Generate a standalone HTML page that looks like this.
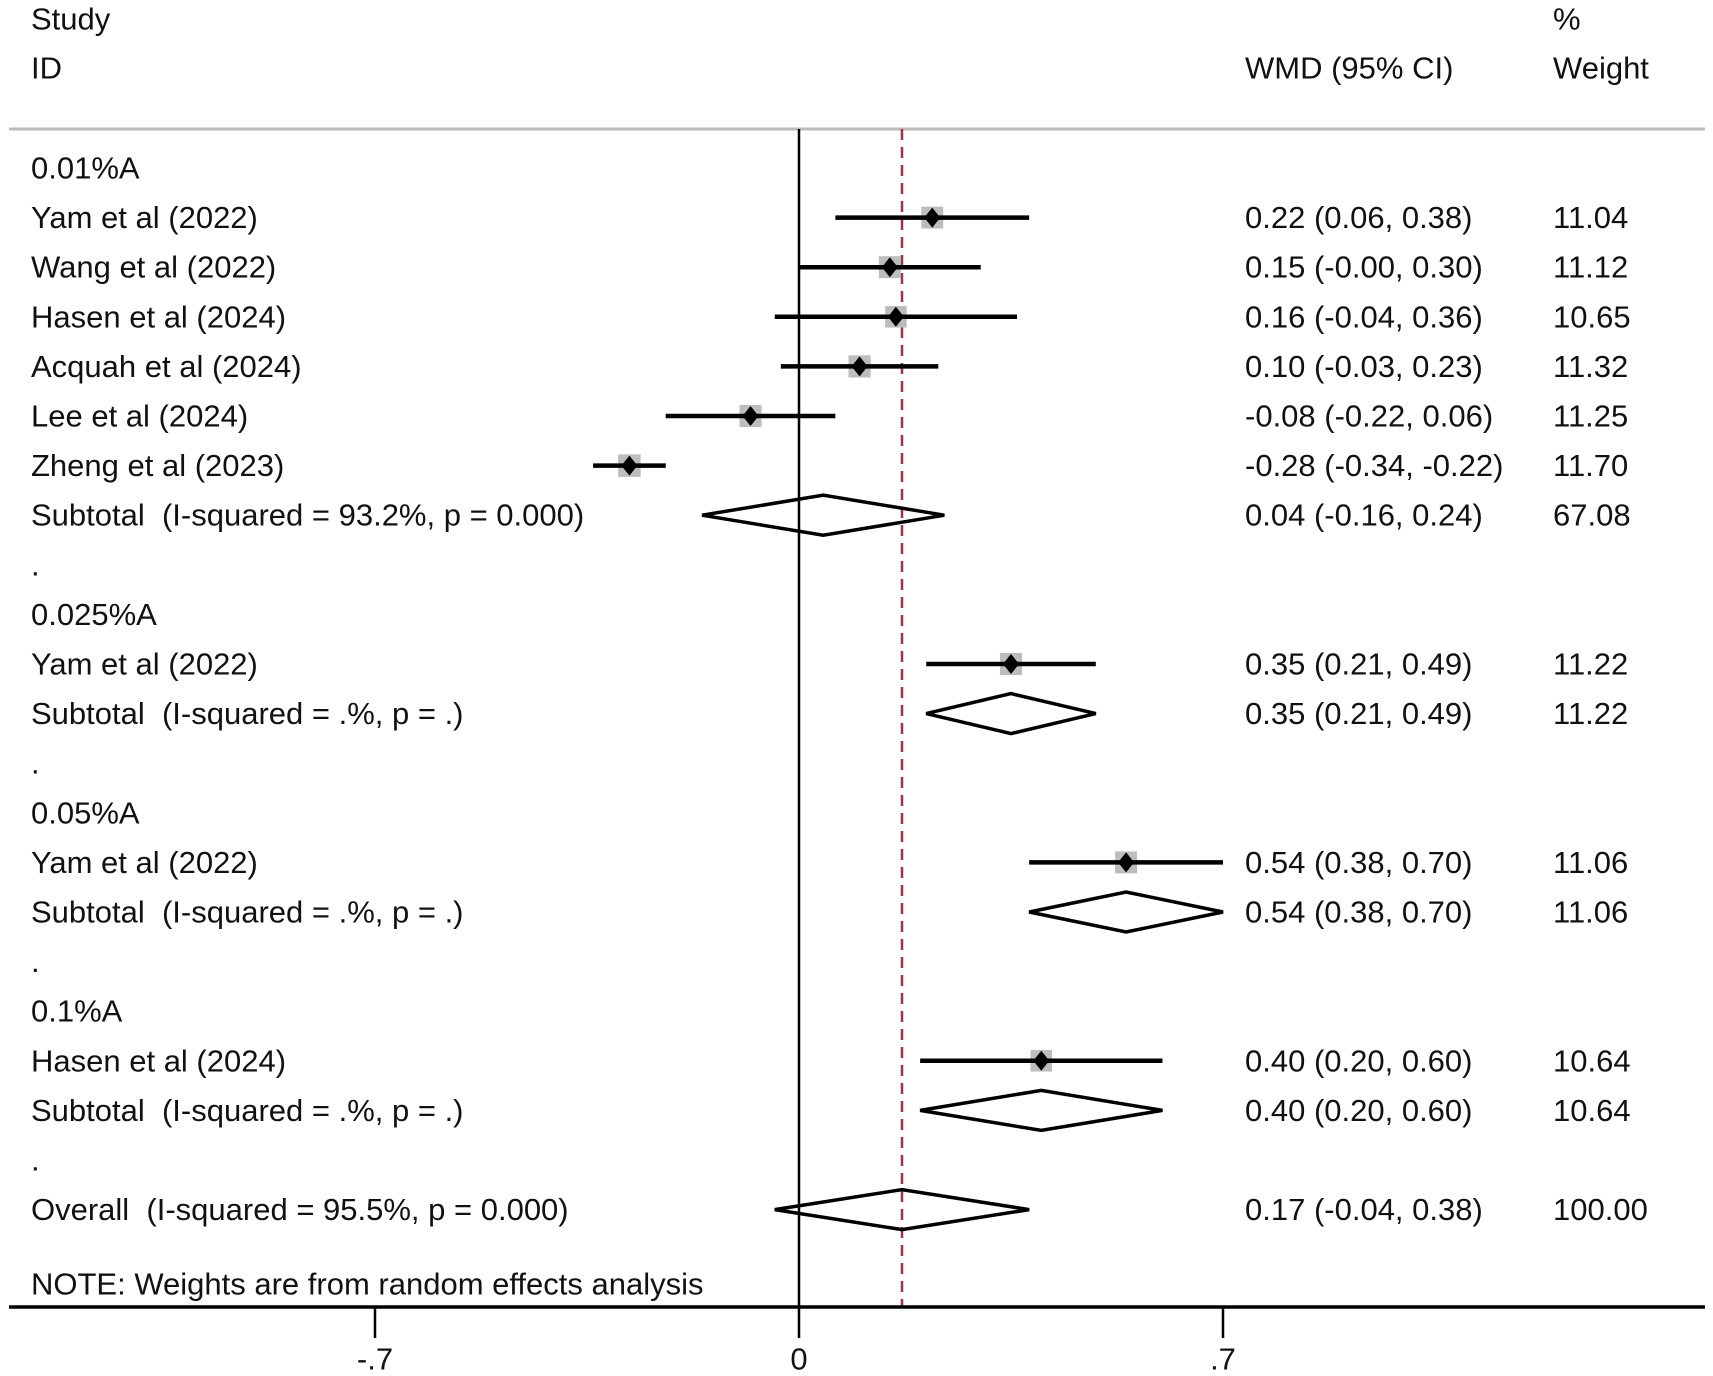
<!DOCTYPE html>
<html><head><meta charset="utf-8"><style>
html,body{margin:0;padding:0;background:#fff;}
svg{display:block;font-family:"Liberation Sans",Arial,sans-serif;}
text{white-space:pre;}
</style></head><body>
<svg id="plot" width="1713" height="1376" viewBox="0 0 1713 1376" xmlns="http://www.w3.org/2000/svg"></svg>
<script>
const labels = ["0.01%A","Yam et al (2022)","Wang et al (2022)","Hasen et al (2024)","Acquah et al (2024)","Lee et al (2024)","Zheng et al (2023)","Subtotal  (I-squared = 93.2%, p = 0.000)",".","0.025%A","Yam et al (2022)","Subtotal  (I-squared = .%, p = .)",".","0.05%A","Yam et al (2022)","Subtotal  (I-squared = .%, p = .)",".","0.1%A","Hasen et al (2024)","Subtotal  (I-squared = .%, p = .)",".","Overall  (I-squared = 95.5%, p = 0.000)"];
const rowTypes = ["h","s","s","s","s","s","s","d","b","h","s","d","b","h","s","d","b","h","s","d","b","d"];
const estimates = [null,0.22,0.15,0.16,0.10,-0.08,-0.28,0.04,null,null,0.35,0.35,null,null,0.54,0.54,null,null,0.40,0.40,null,0.17];
const lowers = [null,0.06,-0.00,-0.04,-0.03,-0.22,-0.34,-0.16,null,null,0.21,0.21,null,null,0.38,0.38,null,null,0.20,0.20,null,-0.04];
const uppers = [null,0.38,0.30,0.36,0.23,0.06,-0.22,0.24,null,null,0.49,0.49,null,null,0.70,0.70,null,null,0.60,0.60,null,0.38];
const ciText = ["","0.22 (0.06, 0.38)","0.15 (-0.00, 0.30)","0.16 (-0.04, 0.36)","0.10 (-0.03, 0.23)","-0.08 (-0.22, 0.06)","-0.28 (-0.34, -0.22)","0.04 (-0.16, 0.24)","","","0.35 (0.21, 0.49)","0.35 (0.21, 0.49)","","","0.54 (0.38, 0.70)","0.54 (0.38, 0.70)","","","0.40 (0.20, 0.60)","0.40 (0.20, 0.60)","",""];
const weightText = ["","11.04","11.12","10.65","11.32","11.25","11.70","67.08","","","11.22","11.22","","","11.06","11.06","","","10.64","10.64","","100.00"];
const weights = [0,11.04,11.12,10.65,11.32,11.25,11.70,0,0,0,11.22,0,0,0,11.06,0,0,0,10.64,0,0,0];
const overallEffect = 0.17;
const tickValues = [-0.7,0,0.7];
const tickLabels = ["-.7","0",".7"];
const overallCI = "0.17 (-0.04, 0.38)";

const svg = document.getElementById('plot');
const NS = "http://www.w3.org/2000/svg";
const x = v => 799 + v * (424/0.7);
const rowY = i => 168 + i * 49.6;
function mk(tag, attrs, parent){ const e=document.createElementNS(NS,tag); for(const k in attrs) e.setAttribute(k,attrs[k]); (parent||svg).appendChild(e); return e; }
function txt(s, xx, yy, name, anchor){ const t=mk('text',{x:xx,y:yy,'font-size':31,fill:'#111','dominant-baseline':'central','text-anchor':anchor||'start'}); t.textContent=s;
 
 
 return t; }

txt("Study",31,19,'header-study'); txt("ID",31,68,'header-id');
txt("WMD (95% CI)",1245,68,'header-wmd'); txt("%",1553,19,'header-percent'); txt("Weight",1553,68,'header-weight');
let l=mk('line',{x1:9,y1:129,x2:1705,y2:129,stroke:'#bbb','stroke-width':3});



l=mk('line',{x1:x(0),y1:129,x2:x(0),y2:1307,stroke:'#000','stroke-width':2.5});


l=mk('line',{x1:x(overallEffect),y1:129,x2:x(overallEffect),y2:1307,stroke:'#a4343f','stroke-width':2.5,'stroke-dasharray':'11,7'});



labels.forEach((lab,i)=>{
  const y=rowY(i);
  txt(lab,31,y,'row-label-'+i);
  if(ciText[i]) txt(ciText[i],1245,y,'ci-text-'+i);
  if(weightText[i]) txt(weightText[i],1553,y,'weight-text-'+i);
  if(rowTypes[i]==='s'){
    const g=mk('g',{});
    
    
    const sz=Math.sqrt(weights[i])*6.6;
    mk('rect',{x:x(estimates[i])-sz/2,y:y-sz/2,width:sz,height:sz,fill:'#bdbdbd'},g);
    mk('line',{x1:x(lowers[i]),y1:y,x2:x(uppers[i]),y2:y,stroke:'#000','stroke-width':4.5},g);
    const cx=x(estimates[i]);
    mk('polygon',{points:`${cx},${y-10} ${cx+8},${y} ${cx},${y+10} ${cx-8},${y}`,fill:'#000'},g);
  } else if(rowTypes[i]==='d'){
    const p=mk('polygon',{points:`${x(lowers[i])},${y} ${x(estimates[i])},${y-20} ${x(uppers[i])},${y} ${x(estimates[i])},${y+20}`,fill:'none',stroke:'#000','stroke-width':3.5});
    
    
  }
});
txt(overallCI,1245,rowY(21),'overall-ci-text');
txt("NOTE: Weights are from random effects analysis",31,1284,'note-text');

l=mk('line',{x1:9,y1:1307,x2:1705,y2:1307,stroke:'#000','stroke-width':3.5});


tickValues.forEach((v,i)=>{
  const t=mk('line',{x1:x(v),y1:1307,x2:x(v),y2:1338,stroke:'#000','stroke-width':2.5});
  
  
  txt(tickLabels[i],x(v),1359,'x-tick-label-'+i,'middle');
});
</script>
</body></html>
